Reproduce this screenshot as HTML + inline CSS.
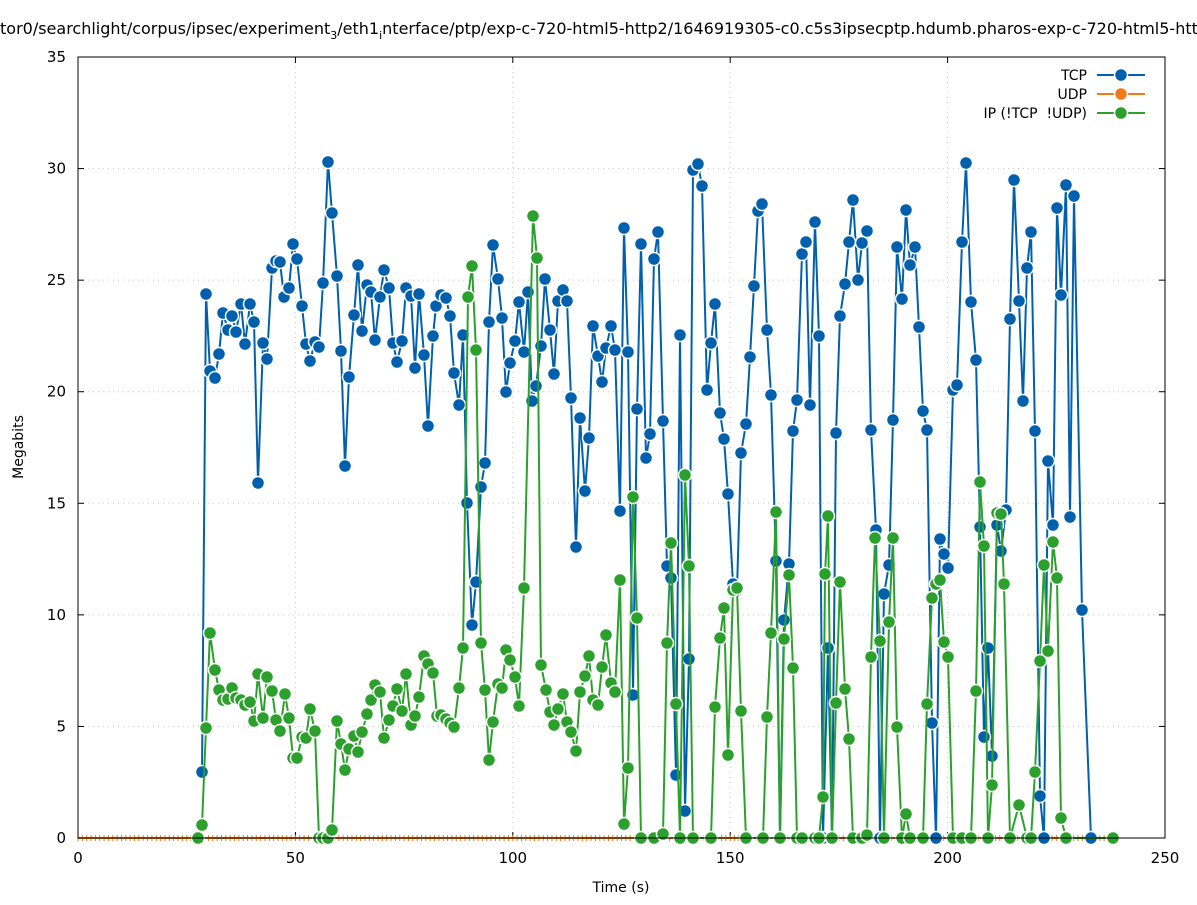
<!DOCTYPE html>
<html><head><meta charset="utf-8"><style>
html,body{margin:0;padding:0;background:#fff;}
svg text{font-family:"DejaVu Sans",sans-serif;}
</style></head><body>
<svg id="s" width="1197" height="900" viewBox="0 0 1197 900" xmlns="http://www.w3.org/2000/svg">
<rect width="1197" height="900" fill="#fff"/>
<text x="0" y="34" font-size="16" fill="#000">tor0/searchlight/corpus/ipsec/experiment<tspan font-size="11" dy="5">3</tspan><tspan dy="-5">/eth1</tspan><tspan font-size="11" dy="5">i</tspan><tspan dy="-5">nterface/ptp/exp-c-720-html5-http2/1646919305-c0.c5s3ipsecptp.hdumb.pharos-exp-c-720-html5-http2</tspan></text>
<g id="grid" stroke="#c8c8c8" stroke-width="1" stroke-dasharray="1,4"></g>
<g id="ax"></g>
<g id="data"></g>
<rect x="78" y="57" width="1087" height="781" fill="none" stroke="#000" stroke-width="1"/>
<text x="23" y="447" font-size="14" text-anchor="middle" transform="rotate(-90 23 447)">Megabits</text>
<text x="621" y="892" font-size="14" text-anchor="middle">Time (s)</text>
<g font-size="14" text-anchor="end">
<text x="1087" y="80">TCP</text>
<text x="1087" y="99">UDP</text>
<text x="1087" y="118" xml:space="preserve">IP (!TCP  !UDP)</text>
</g>
<line x1="1097" y1="75" x2="1145" y2="75" stroke="#0060ad" stroke-width="2"/>
<circle cx="1121" cy="75" r="6.5" fill="#0060ad" stroke="#fff" stroke-width="1.5"/>
<line x1="1097" y1="94" x2="1145" y2="94" stroke="#f07a1a" stroke-width="2"/>
<circle cx="1121" cy="94" r="6.5" fill="#f07a1a" stroke="#fff" stroke-width="1.5"/>
<line x1="1097" y1="113" x2="1145" y2="113" stroke="#2ca02c" stroke-width="2"/>
<circle cx="1121" cy="113" r="6.5" fill="#2ca02c" stroke="#fff" stroke-width="1.5"/>
</svg>
<script>
var NS="http://www.w3.org/2000/svg";
function el(p,t,a){var e=document.createElementNS(NS,t);for(var k in a)e.setAttribute(k,a[k]);p.appendChild(e);return e;}
var g=document.getElementById('grid'),ax=document.getElementById('ax'),d=document.getElementById('data');
for(var v=0;v<=35;v+=5){var y=838-v*22.314;
 if(v>0&&v<35)el(g,'line',{x1:78,y1:y,x2:1165,y2:y});
 el(ax,'line',{x1:78,y1:y,x2:84,y2:y,stroke:'#000'});el(ax,'line',{x1:1159,y1:y,x2:1165,y2:y,stroke:'#000'});
 var t=el(ax,'text',{x:66,y:y+5,'font-size':15,'text-anchor':'end'});t.textContent=v;}
for(var v=0;v<=250;v+=50){var x=78+v*4.348;
 if(v>0&&v<250)el(g,'line',{x1:x,y1:57,x2:x,y2:838});
 el(ax,'line',{x1:x,y1:838,x2:x,y2:832,stroke:'#000'});el(ax,'line',{x1:x,y1:57,x2:x,y2:63,stroke:'#000'});
 var t=el(ax,'text',{x:x,y:863,'font-size':15,'text-anchor':'middle'});t.textContent=v;}
el(d,'line',{x1:78,y1:838,x2:1113,y2:838,stroke:'#f07a1a','stroke-width':2});
for(var x=78;x<=1113;x+=4.348)el(d,'line',{x1:x,y1:835,x2:x,y2:841,stroke:'#f07a1a','stroke-width':1});
var tcp=[[202,772],[206,294],[210,371],[215,378],[219,354],[223,313],[228,330],[232,316],[236,332],[241,304],[245,344],[250,304],[254,322],[258,483],[263,343],[267,359],[272,268],[276,261],[280,262],[284,297],[289,288],[293,244],[297,259],[302,306],[306,344],[310,361],[315,342],[319,347],[323,283],[328,162],[332,213],[337,276],[341,351],[345,466],[349,377],[354,315],[358,265],[362,331],[367,285],[371,292],[375,340],[380,297],[384,270],[389,288],[393,343],[397,362],[402,341],[406,288],[411,296],[415,368],[419,294],[424,355],[428,426],[433,336],[436,306],[441,295],[446,298],[450,316],[454,373],[459,405],[463,335],[467,503],[472,625],[476,582],[481,487],[485,463],[489,322],[493,245],[498,279],[502,318],[506,392],[510,363],[515,341],[519,302],[524,352],[528,292],[532,401],[536,386],[541,346],[545,279],[550,330],[554,374],[558,301],[563,290],[567,301],[571,398],[576,547],[580,418],[585,491],[589,438],[593,326],[598,356],[602,382],[606,348],[611,326],[615,350],[620,511],[624,228],[628,352],[633,695],[637,409],[641,244],[646,458],[650,434],[654,259],[658,232],[663,421],[667,566],[671,578],[676,775],[680,335],[685,811],[689,659],[693,170],[698,164],[702,186],[707,390],[711,343],[715,304],[720,413],[724,439],[728,494],[733,584],[737,590],[741,453],[746,424],[750,357],[754,286],[758,211],[762,204],[767,330],[771,395],[776,561],[780,838],[784,620],[789,564],[793,431],[797,400],[802,254],[806,242],[810,405],[815,222],[819,336],[823,838],[828,648],[832,838],[836,433],[840,316],[845,284],[849,242],[853,200],[858,280],[862,243],[867,231],[871,430],[876,530],[880,838],[884,594],[889,565],[893,420],[897,247],[902,299],[906,210],[910,265],[915,247],[919,327],[923,411],[927,430],[932,723],[936,838],[940,539],[944,554],[948,568],[953,390],[957,385],[962,242],[966,163],[971,302],[976,360],[980,527],[984,737],[988,648],[992,756],[997,525],[1001,551],[1006,510],[1010,319],[1014,180],[1019,301],[1023,401],[1027,268],[1031,232],[1035,431],[1040,796],[1044,838],[1048,461],[1053,525],[1057,208],[1061,295],[1066,185],[1070,517],[1074,196],[1082,610],[1091,838]];
var ip=[[198,838],[202,825],[206,728],[210,633],[215,670],[219,690],[223,700],[228,699],[232,688],[236,698],[241,700],[245,705],[250,702],[254,721],[258,674],[263,718],[267,677],[272,691],[276,720],[280,731],[285,694],[289,718],[293,758],[297,758],[302,737],[306,738],[310,709],[315,731],[319,838],[323,838],[328,838],[332,830],[337,721],[341,744],[345,770],[349,749],[354,736],[358,752],[362,732],[367,714],[371,700],[375,685],[380,692],[384,738],[389,720],[393,706],[397,689],[402,711],[406,674],[411,725],[415,716],[419,697],[424,656],[428,664],[433,673],[437,716],[441,715],[446,719],[450,723],[454,727],[459,688],[463,648],[468,297],[472,266],[476,350],[481,643],[485,690],[489,760],[493,722],[498,684],[502,688],[506,650],[510,660],[515,677],[519,706],[524,588],[533,216],[537,258],[541,665],[546,690],[550,712],[554,725],[558,709],[563,694],[567,722],[571,732],[576,751],[580,692],[585,676],[589,656],[593,700],[598,705],[602,667],[606,635],[611,683],[615,692],[620,580],[624,824],[628,768],[633,497],[637,618],[641,838],[654,838],[663,834],[667,643],[671,543],[676,704],[680,838],[685,475],[689,566],[693,838],[711,838],[715,707],[720,638],[724,608],[728,755],[733,590],[737,588],[741,711],[746,838],[763,838],[767,717],[771,633],[776,512],[780,838],[784,639],[789,575],[793,668],[797,838],[802,838],[815,838],[819,838],[823,797],[825,574],[828,516],[832,838],[836,703],[840,582],[845,689],[849,739],[853,838],[862,838],[867,835],[871,657],[875,538],[880,641],[884,838],[889,622],[893,538],[897,727],[902,838],[906,814],[910,838],[923,838],[927,704],[932,598],[936,584],[940,580],[944,642],[948,657],[953,838],[962,838],[971,838],[976,691],[980,482],[984,546],[988,838],[992,785],[997,513],[1001,514],[1004,584],[1010,838],[1019,805],[1027,838],[1031,838],[1035,772],[1040,661],[1044,565],[1048,651],[1053,542],[1057,578],[1061,818],[1066,838],[1113,838]];
function series(pts,col){
 el(d,'polyline',{points:pts.map(function(p){return p.join(',')}).join(' '),fill:'none',stroke:col,'stroke-width':2,'stroke-linejoin':'round'});
 pts.forEach(function(p){el(d,'circle',{cx:p[0],cy:p[1],r:6.5,fill:col,stroke:'#fff','stroke-width':1.5});});}
series(tcp,'#0060ad');series(ip,'#2ca02c');
</script>
</body></html>
